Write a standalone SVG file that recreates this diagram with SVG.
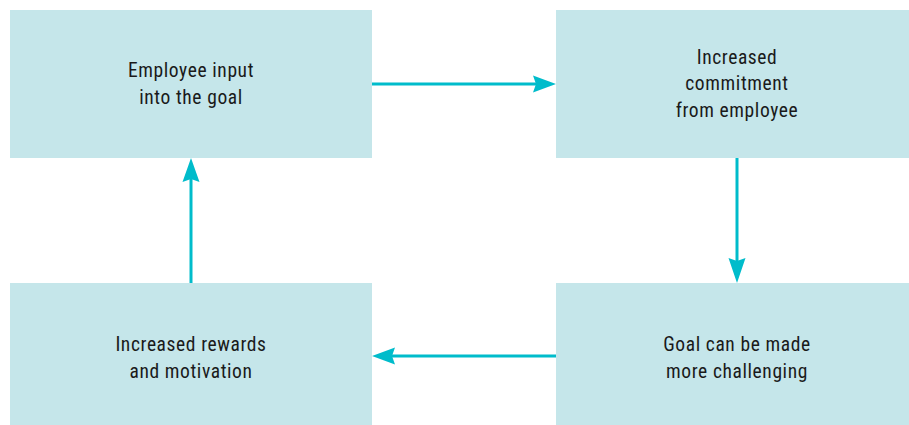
<svg xmlns="http://www.w3.org/2000/svg" width="909" height="425" viewBox="0 0 909 425">
<defs>
<style>
.box{fill:#C5E6EA;}
.t{font-family:"Liberation Sans Narrow","Roboto Condensed","Liberation Sans",sans-serif;font-size:19.5px;letter-spacing:0.6px;fill:#1a1a1a;text-anchor:middle;}
.ln{stroke:#00BCCB;stroke-width:3;fill:none;}
.hd{fill:#00BCCB;}
</style>
</defs>
<rect width="909" height="425" fill="#ffffff"/>
<g id="n1">
<rect class="box" x="10" y="10" width="362" height="148"/>
<text class="t" x="191" y="77">Employee input</text>
<text class="t" x="191" y="104">into the goal</text>
</g>
<g id="n2">
<rect class="box" x="556" y="10" width="362" height="148"/>
<text class="t" x="737" y="64">Increased</text>
<text class="t" x="737" y="90">commitment</text>
<text class="t" x="737" y="117">from employee</text>
</g>
<g id="n3">
<rect class="box" x="556" y="283" width="362" height="142"/>
<text class="t" x="737" y="351">Goal can be made</text>
<text class="t" x="737" y="378">more challenging</text>
</g>
<g id="n4">
<rect class="box" x="10" y="283" width="362" height="142"/>
<text class="t" x="191" y="351">Increased rewards</text>
<text class="t" x="191" y="378">and motivation</text>
</g>
<g id="connectors">
<line class="ln" x1="372" y1="84" x2="536" y2="84"/>
<polygon class="hd" points="556,84 533,75.5 536,84 533,92.5"/>
<line class="ln" x1="737" y1="158" x2="737" y2="262"/>
<polygon class="hd" points="737,283 728.5,258 737,261 745.5,258"/>
<line class="ln" x1="556" y1="356" x2="392" y2="356"/>
<polygon class="hd" points="372,356 395,347.5 392,356 395,364.5"/>
<line class="ln" x1="191" y1="283" x2="191" y2="179"/>
<polygon class="hd" points="191,158 182.5,182 191,179 199.5,182"/>
</g>
</svg>
